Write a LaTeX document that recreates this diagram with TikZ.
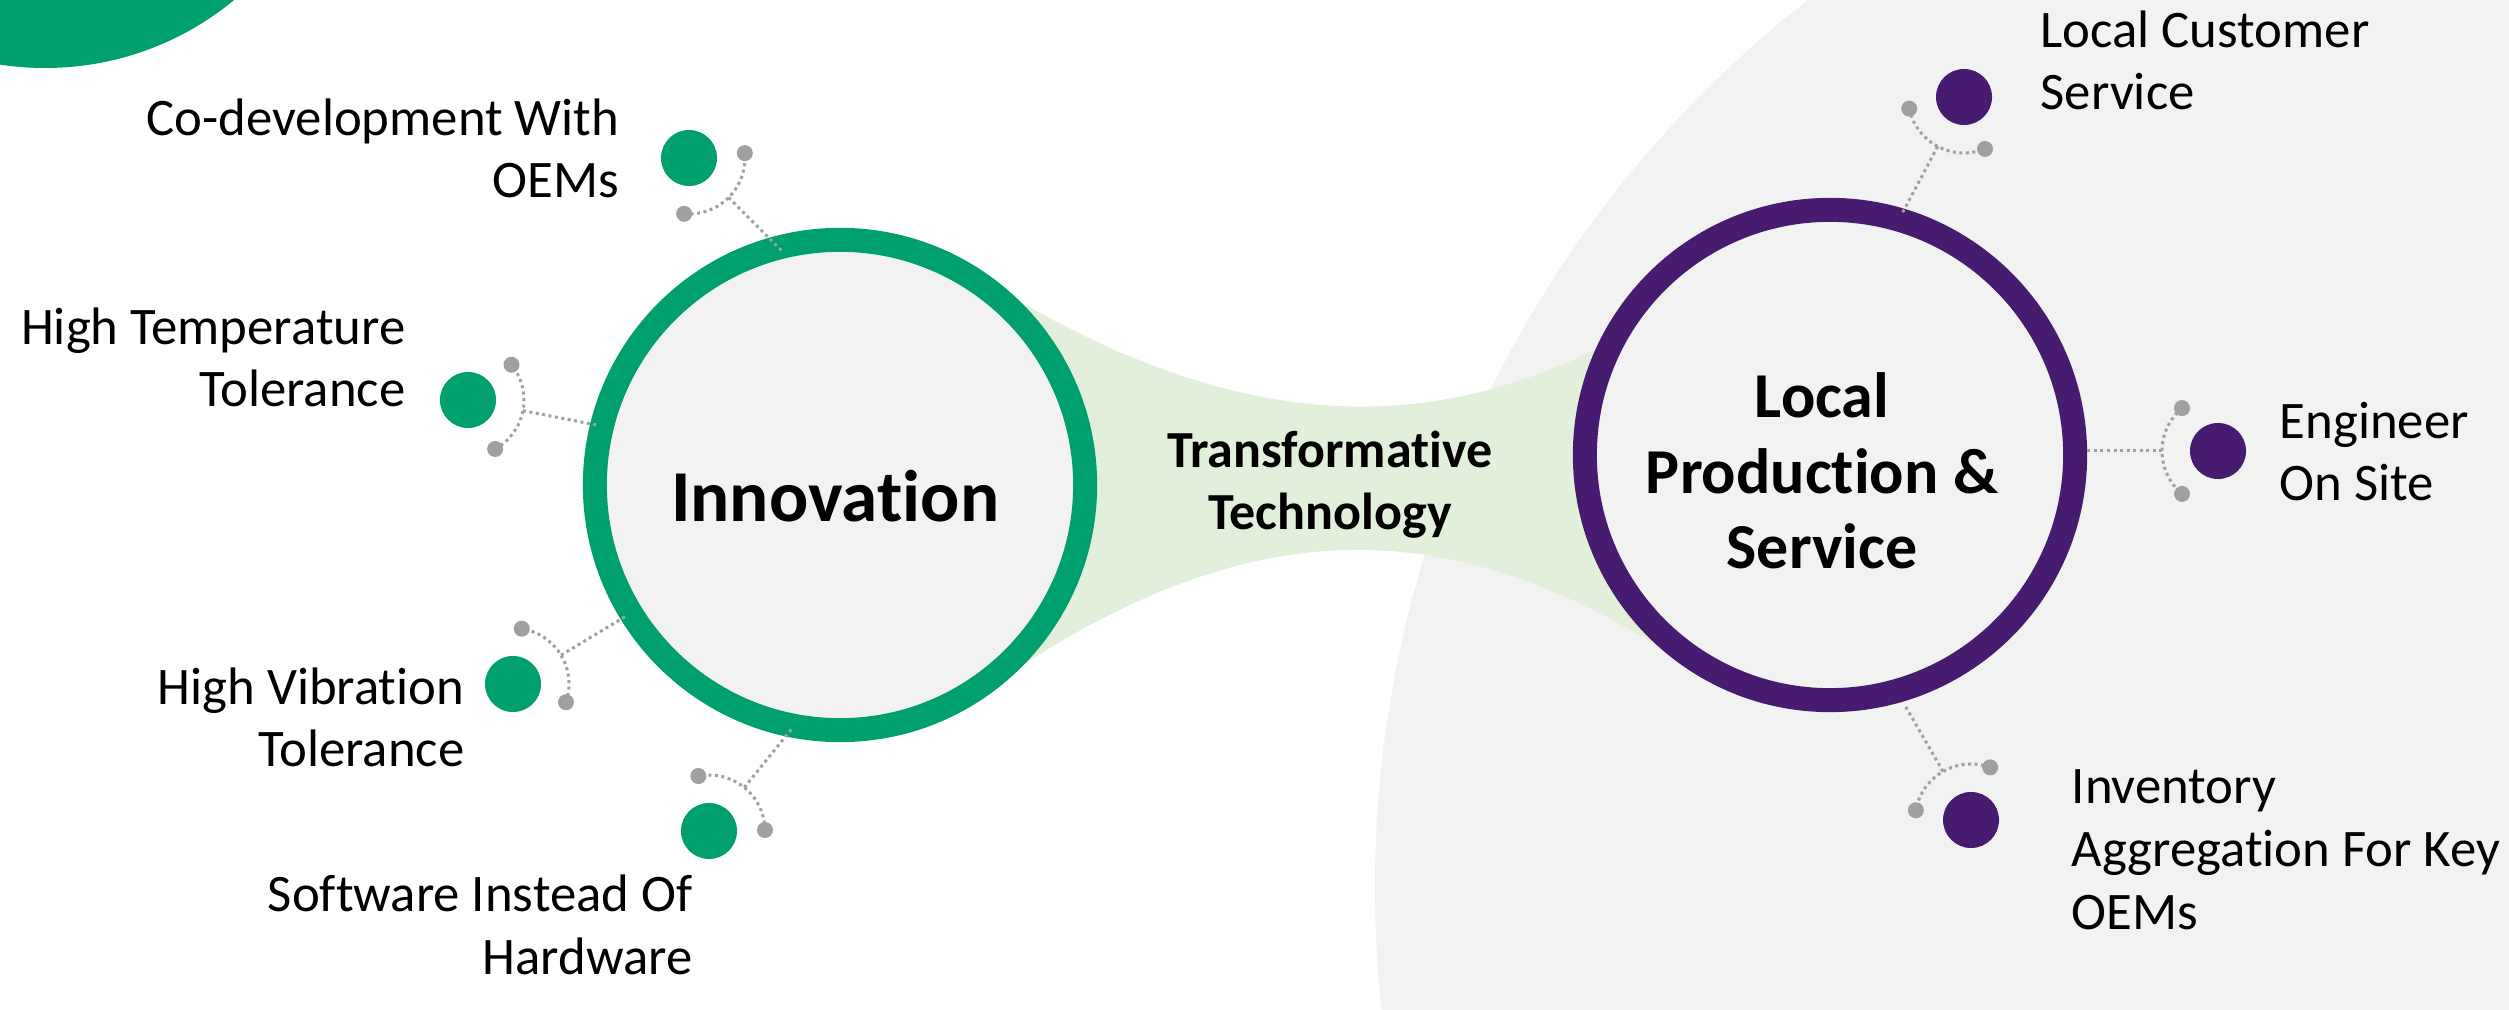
\documentclass[tikz,border=0pt]{standalone}
\usepackage{fontspec}
\setmainfont{Carlito}[Ligatures=NoCommon]
\usetikzlibrary{calc}
\definecolor{innoGreen}{HTML}{00A06E}
\definecolor{localPurple}{HTML}{471B6F}
\definecolor{paleGray}{HTML}{F2F2F2}
\definecolor{paleGreen}{HTML}{E2EFDA}
\definecolor{dotGray}{HTML}{A0A0A0}
\begin{document}
\begin{tikzpicture}[x=0.01cm, y=-0.01cm,
    ring/.style={circle, minimum size=4.9cm, line width=0.24cm, fill=paleGray, inner sep=0},
    satdot/.style={circle, minimum size=0.56cm, inner sep=0},
    tipdot/.style={circle, minimum size=0.16cm, inner sep=0, fill=dotGray},
    dotlink/.style={dotGray, line width=0.03cm, dash pattern=on 0.03cm off 0.035cm},
    sattext/.style={font=\fontsize{15}{17.9}\selectfont, inner sep=0},
    hubtext/.style={font=\bfseries, align=center, inner sep=0}]
	\useasboundingbox (0,0) rectangle (2509,1010);
	\clip (0,0) rectangle (2509,1010);
	\fill[white] (0,0) rectangle (2509,1010);
	\fill[paleGray] (2500,887) circle[radius=1125];
	\fill[innoGreen] (45,-229) circle[radius=297];
	\fill[paleGreen] (1000,290) .. controls (1250,440) and (1450,440) .. (1650,320)
		-- (1680,660) .. controls (1450,510) and (1250,510) .. (1000,680) -- cycle;
	\node[ring, draw=innoGreen] (inno) at (840,485) {};
	\node[ring, draw=localPurple] (local) at (1830,455) {};
	\node[hubtext, font=\bfseries\fontsize{20.8}{25}\selectfont, anchor=base] (inno-t) at (835,522) {Innovation};
	\node[hubtext, font=\bfseries\fontsize{18.2}{21.6}\selectfont, anchor=base] (local-t) at (1822,569) {Local\\Production \&\\Service};
	\node[hubtext, font=\bfseries\fontsize{14.8}{17.9}\selectfont, anchor=base] (bridge-t) at (1330,530) {Transformative\\Technology};
	\node[sattext, align=right, anchor=base east] (codev-t) at (620,198) {Co-development With\\OEMs};
	\node[sattext, align=right, anchor=base east] (temp-t) at (406,407) {High Temperature\\Tolerance};
	\node[sattext, align=right, anchor=base east] (vib-t) at (465,767) {High Vibration\\Tolerance};
	\node[sattext, align=right, anchor=base east] (soft-t) at (693,974) {Software Instead Of\\Hardware};
	\node[sattext, align=left, anchor=base west] (cust-t) at (2040,110) {Local Customer\\Service};
	\node[sattext, align=left, anchor=base west] (eng-t) at (2279,501) {Engineer\\On Site};
	\node[sattext, align=left, anchor=base west] (inv-t) at (2071,929) {Inventory\\Aggregation For Key\\OEMs};
	\foreach \nm/\px/\py/\a/\c in {codev/689/158/45/innoGreen, temp/468/400/11/innoGreen,
		vib/513/684/-31/innoGreen, soft/709/831/-51/innoGreen, cust/1964/97/118/localPurple,
		eng/2218/451/180/localPurple, inv/1971/820/-120/localPurple}{
		\node[satdot, fill=\c] (\nm) at (\px,\py) {};
		\draw[dotlink] ($(\nm.center)+(\a+50:56)$) coordinate (\nm-a)
			arc[start angle=\a+50, end angle=\a-50, radius=56] coordinate (\nm-b);
		\coordinate (\nm-j) at ($(\nm.center)+(\a:56)$);
		\coordinate (\nm-e) at ($(\nm.center)+(\a:133)$);
		\draw[dotlink] (\nm-j) -- (\nm-e);
		\node[tipdot] (\nm-p) at (\nm-a) {};
		\node[tipdot] (\nm-q) at (\nm-b) {};
	}
\end{tikzpicture}
\end{document}
